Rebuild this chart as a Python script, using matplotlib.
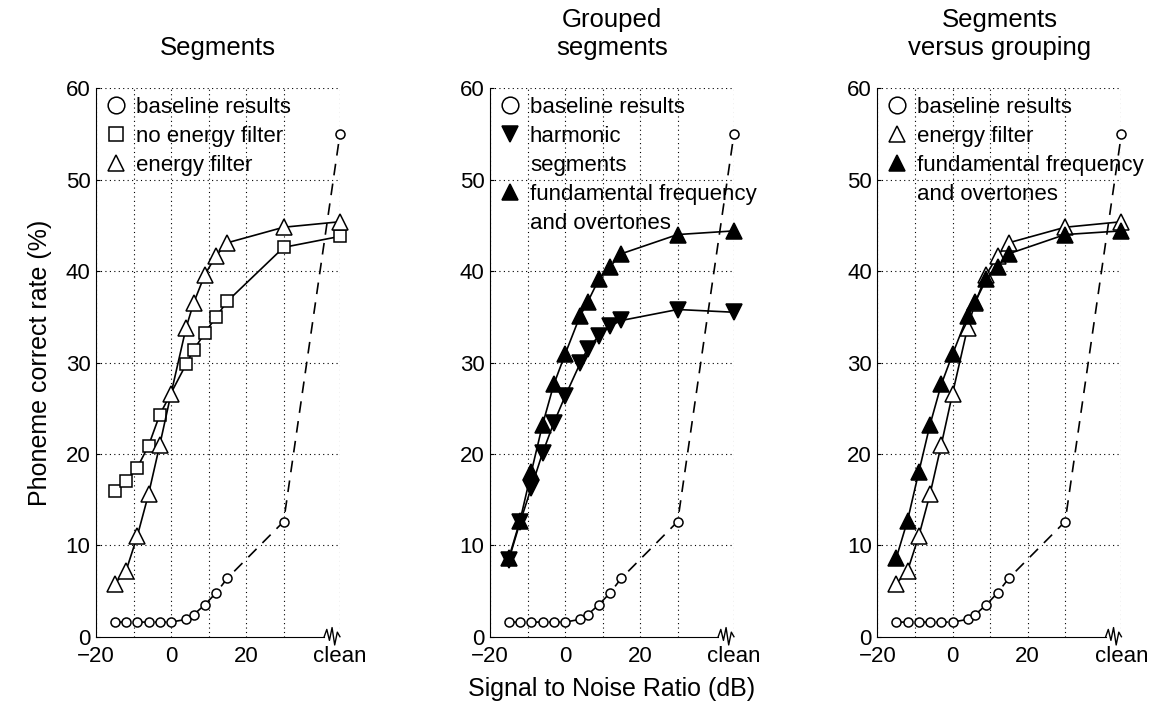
import numpy as np
import matplotlib.pyplot as plt
from matplotlib.lines import Line2D

plt.rcParams['font.family'] = ['Liberation Sans', 'DejaVu Sans']

# "clean" speech is put at the right end of the SNR axis, behind an axis break
CLEAN = 45

snr = [-15, -12, -9, -6, -3, 0, 4, 6, 9, 12, 15, 30, CLEAN]
snr_no_filter = [-15, -12, -9, -6, -3, 4, 6, 9, 12, 15, 30, CLEAN]

baseline = [1.6, 1.6, 1.6, 1.6, 1.6, 1.6, 1.9, 2.4, 3.5, 4.8, 6.4, 12.6, 55.0]
no_energy_filter = [15.9, 17.0, 18.5, 20.9, 24.3, 29.8, 31.4, 33.2, 35.0, 36.7, 42.6, 43.8]
energy_filter = [5.8, 7.2, 11.0, 15.6, 21.0, 26.6, 33.8, 36.5, 39.6, 41.7, 43.1, 44.8, 45.4]
harmonic_segments = [8.4, 12.5, 16.3, 20.1, 23.4, 26.3, 29.9, 31.5, 32.9, 34.0, 34.6, 35.8, 35.5]
fundamental_overtones = [8.6, 12.7, 18.0, 23.2, 27.6, 30.9, 35.1, 36.6, 39.1, 40.5, 41.9, 44.0, 44.4]

titles = ['Segments', 'Grouped\nsegments', 'Segments\nversus grouping']
xtick_pos = [-20, 0, 20, CLEAN]
xtick_labels = ['\u221220', '0', '20', 'clean']

FS = 16
LW = 1.2

fig = plt.figure(figsize=(11.65, 7.07), dpi=100)
lefts = [0.0824, 0.4206, 0.7532]
axes = [fig.add_axes([l, 0.0994, 0.2094, 0.7757]) for l in lefts]


def setup(ax, title):
    ax.set_xlim(-20, CLEAN)
    ax.set_ylim(0, 60)
    ax.set_xticks(xtick_pos)
    ax.set_xticklabels(xtick_labels)
    ax.set_xticks([-10, 10, 30], minor=True)
    ax.set_yticks(range(0, 61, 10))
    ax.tick_params(axis='both', which='both', labelsize=FS, direction='in')
    ax.tick_params(axis='x', which='both', length=0, pad=7)
    ax.tick_params(axis='y', length=3, pad=4)
    ax.grid(True, which='both', linestyle=(0, (1, 3)), color='k', linewidth=0.8)
    ax.get_ygridlines()[0].set_visible(False)
    ax.set_axisbelow(True)
    for s in ['top', 'right']:
        ax.spines[s].set_visible(False)
    ax.spines['bottom'].set_bounds(-20, CLEAN - 4.2)
    # zigzag break marker on the x axis
    zx = CLEAN + np.array([-4.2, -3.5, -2.8, -2.1, -1.4, -0.7, 0.0])
    zy = np.array([0, 0.8, -0.4, 1.0, -0.9, 0.5, 0.0])
    ax.plot(zx, zy, color='k', lw=1.0, clip_on=False, zorder=5)
    ax.set_title(title, fontsize=18.5, pad=24)


def plot_baseline(ax):
    ax.plot(snr, baseline, color='k', lw=LW, dashes=(7, 5), marker='o', ms=6.5,
            mfc='white', mec='k', mew=1.1, clip_on=False, zorder=3)


def tri_line(ax, y, up=True, filled=False):
    ax.plot(snr, y, color='k', lw=LW, marker='^' if up else 'v', ms=12,
            mfc='k' if filled else 'white', mec='k', mew=1.1,
            clip_on=False, zorder=4)


def handle(marker, filled=False, ms=12):
    return Line2D([], [], ls='none', marker=marker, ms=ms,
                  mfc='k' if filled else 'white', mec='k', mew=1.1)


blank = Line2D([], [], ls='none')

for ax, t in zip(axes, titles):
    setup(ax, t)
    plot_baseline(ax)

# Segments
ax = axes[0]
ax.plot(snr_no_filter, no_energy_filter, color='k', lw=LW, marker='s', ms=9,
        mfc='white', mec='k', mew=1.1, clip_on=False, zorder=4)
tri_line(ax, energy_filter)
h1 = [handle('o'), handle('s', ms=10), handle('^')]
l1 = ['baseline results', 'no energy filter', 'energy filter']

# Grouped segments
ax = axes[1]
tri_line(ax, harmonic_segments, up=False, filled=True)
tri_line(ax, fundamental_overtones, filled=True)
h2 = [handle('o'), handle('v', True), blank, handle('^', True), blank]
l2 = ['baseline results', 'harmonic', 'segments', 'fundamental frequency', 'and overtones']

# Segments versus grouping
ax = axes[2]
tri_line(ax, energy_filter)
tri_line(ax, fundamental_overtones, filled=True)
h3 = [handle('o'), handle('^'), handle('^', True), blank]
l3 = ['baseline results', 'energy filter', 'fundamental frequency', 'and overtones']

for ax, hh, ll in zip(axes, [h1, h2, h3], [l1, l2, l3]):
    ax.legend(hh, ll, loc='upper left', frameon=False, fontsize=FS,
              handlelength=1.0, handletextpad=0.4, labelspacing=0.36,
              borderpad=0.3, borderaxespad=0.1)

axes[0].set_ylabel('Phoneme correct rate (%)', fontsize=18, labelpad=10)
axes[1].set_xlabel('Signal to Noise Ratio (dB)', fontsize=18, labelpad=7)

fig.savefig('out.png', dpi=100)
